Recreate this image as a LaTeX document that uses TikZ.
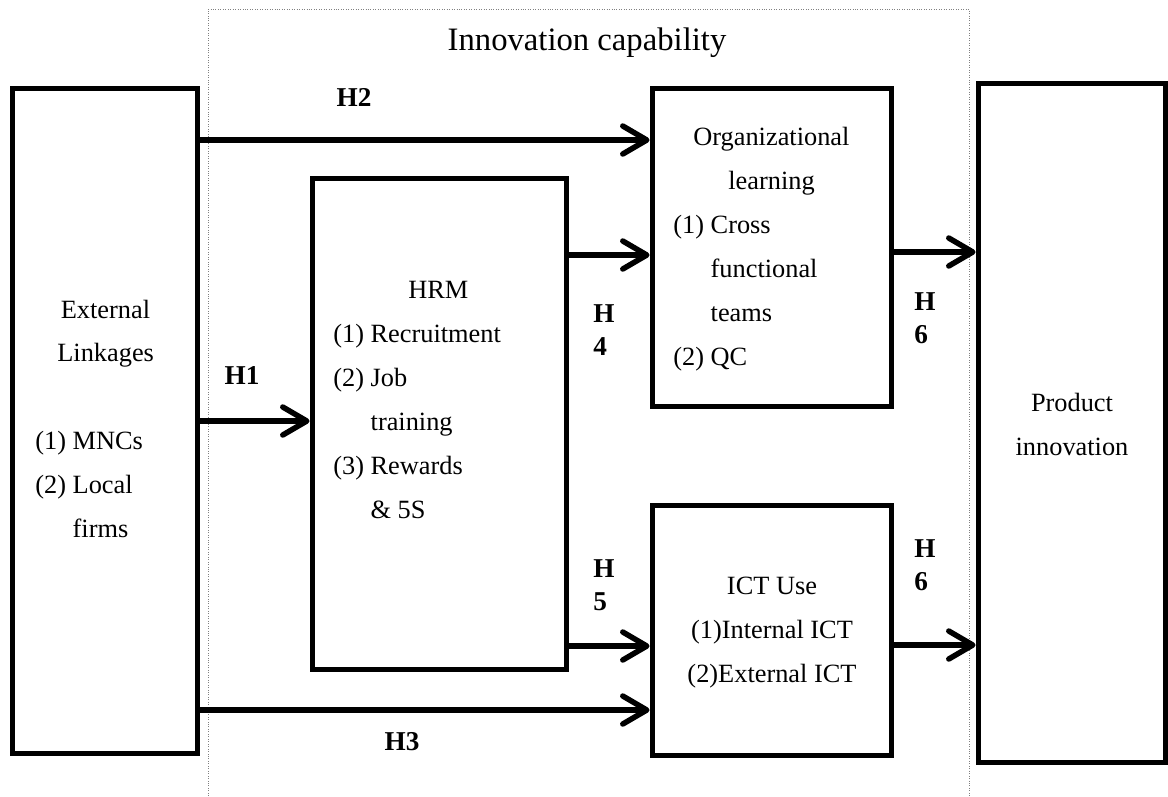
\documentclass[tikz,border=0pt]{standalone}
\usepackage{fontspec}
\setmainfont{Liberation Serif}
\usetikzlibrary{arrows.meta}

\begin{document}
\begin{tikzpicture}[x=0.02cm, y=-0.02cm,
        box/.style={draw, line width=0.1cm, inner sep=0pt},
        txt/.style={font=\fontsize{15}{25}\selectfont, inner sep=0pt},
        hyp/.style={font=\fontsize{15.5}{19}\selectfont\bfseries, inner sep=0pt, align=left},
        link/.style={line width=0.11cm, -{Straight Barb[length=0.48cm, width=0.56cm, round]}}]
    \useasboundingbox (0,0) rectangle (1168,796);
    \draw[gray, densely dotted, line width=0.4pt] (208,796) -- (208,9) -- (969,9) -- (969,796);
    \node[txt, font=\fontsize{18.6}{22}\selectfont] (title) at (587,43) {Innovation capability};

    \node[box, minimum width=3.72cm, minimum height=13.32cm] (el) at (105,421) {};
    \node[box, minimum width=5.10cm, minimum height=9.84cm] (hrm) at (439.5,424) {};
    \node[box, minimum width=4.80cm, minimum height=6.38cm] (ol) at (772,247.5) {};
    \node[box, minimum width=4.80cm, minimum height=5.02cm] (ict) at (772,630.5) {};
    \node[box, minimum width=3.74cm, minimum height=13.60cm] (prod) at (1071.5,423) {};

    \node[txt, align=left, anchor=west] (eltext) at (35,421.5)
        {\hspace*{0.51cm}External\\\hspace*{0.44cm}Linkages\\[25pt](1) MNCs\\(2) Local\\\phantom{(1) }firms};
    \node[txt, align=left, anchor=west] (hrmtext) at (333,402.5)
        {\hspace*{1.5cm}HRM\\(1) Recruitment\\(2) Job\\\phantom{(2) }training\\(3) Rewards\\\phantom{(3) }\& 5S};
    \node[txt, align=left, anchor=west] (oltext) at (673,249)
        {\hspace*{0.4cm}Organizational\\\hspace*{1.1cm}learning\\(1) Cross\\\phantom{(1) }functional\\\phantom{(1) }teams\\(2) QC};
    \node[txt, align=center] (icttext) at (772,632.5) {ICT Use\\(1)Internal ICT\\(2)External ICT};
    \node[txt, align=center] (prodtext) at (1072,424.5) {Product\\innovation};

    \draw[link] (el.east |- 0,140) -- (ol.west |- 0,140);
    \draw[link] (el.east |- 0,421) -- (hrm.west |- 0,421);
    \draw[link] (el.east |- 0,710) -- (ict.west |- 0,710);
    \draw[link] (hrm.east |- 0,255) -- (ol.west |- 0,255);
    \draw[link] (hrm.east |- 0,646) -- (ict.west |- 0,646);
    \draw[link] (ol.east |- 0,252) -- (prod.west |- 0,252);
    \draw[link] (ict.east |- 0,645) -- (prod.west |- 0,645);

    \node[hyp] (h2) at (354,97) {H2};
    \node[hyp] (h1) at (242,375) {H1};
    \node[hyp] (h3) at (402,742) {H3};
    \node[hyp, anchor=west] (h4) at (593,330) {H\\4};
    \node[hyp, anchor=west] (h5) at (593,585) {H\\5};
    \node[hyp, anchor=west] (h6a) at (914,318) {H\\6};
    \node[hyp, anchor=west] (h6b) at (914,565) {H\\6};
\end{tikzpicture}
\end{document}
